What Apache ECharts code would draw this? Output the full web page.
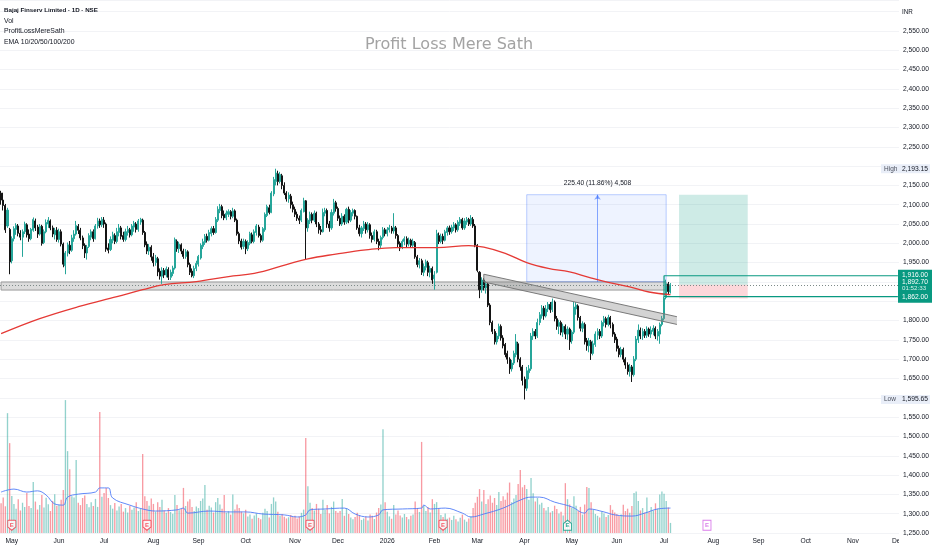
<!DOCTYPE html>
<html lang="en">
<head>
<meta charset="UTF-8">
<title>Bajaj Finserv Limited · 1D · NSE</title>
<style>
  html, body { margin: 0; padding: 0; background: #fff; }
  #chart { width: 932px; height: 550px; }
</style>
<script src="https://cdn.jsdelivr.net/npm/echarts@6/dist/echarts.min.js"></script>
</head>
<body>
<div id="chart"></div>
<script>
// ---- data ----
var firstDay = Date.UTC(2025, 3, 24);   // first visible session
var dayCount = 419;                      // sessions on the time scale (incl. future)
var monthAbbr = ['Jan','Feb','Mar','Apr','May','Jun','Jul','Aug','Sep','Oct','Nov','Dec'];
var hiddenTicks = [2600, 2200, 1900, 1850, 1600];

// [open, close, low, high]
var candles = [
  // Apr 2025
  [2130,2112,2100,2136],[2112,2098,2085,2131],[2098,2035,2027,2102],[2045,2086,2040,2092],[2036,1952,1920,2040],
  // May
  [1955,2012,1948,2018],[2012,2038,2005,2044],[2036,2046,2022,2052],[2045,2026,2018,2050],[2026,2016,2008,2034],
  [2016,2030,1965,2036],[2030,2050,2024,2056],[2048,2022,2015,2052],[2024,2012,2004,2036],[2012,2036,2008,2040],
  [2034,2062,2030,2067],[2058,2040,2032,2064],[2042,2024,2014,2048],[2024,2044,2020,2050],[2044,2000,1994,2048],
  [2002,2030,1998,2036],[2030,2054,2026,2062],[2050,2060,2040,2068],[2058,2040,2034,2062],[2040,2024,2016,2046],
  [2022,2034,2010,2040],[2034,2010,2004,2042],
  // Jun
  [2010,2030,2002,2038],[2030,1998,1992,2036],[1998,1946,1938,2002],[1942,1975,1920,1980],[1975,1996,1966,2002],
  [1995,1982,1972,2006],[1982,2014,1978,2022],[2012,2024,2004,2034],[2024,2046,2020,2058],[2044,2034,2024,2050],
  [2034,2014,2008,2040],[2014,1994,1985,2020],[1995,1975,1962,2000],[1975,1990,1958,1996],[1992,2020,1988,2026],
  [2016,2030,2008,2036],[2030,2012,2004,2036],[2012,2045,2010,2050],[2045,2058,2038,2066],[2058,2048,2040,2064],
  [2048,2062,2042,2068],
  // Jul
  [2060,2050,2040,2068],[2050,1985,1978,2054],[1988,1982,1974,2000],[1984,2010,1980,2018],[2008,2022,2000,2030],
  [2020,2005,1998,2026],[2005,2030,2000,2040],[2028,2040,2018,2050],[2040,2018,2010,2045],[2020,2010,2004,2030],
  [2010,2030,2005,2038],[2028,2036,2020,2045],[2035,2022,2015,2040],[2022,2045,2018,2050],[2042,2052,2030,2058],
  [2050,2036,2028,2055],[2036,2058,2030,2063],[2055,2062,2048,2066],[2060,2028,2022,2064],[2028,1996,1990,2032],
  [1998,1980,1972,2005],[1980,1990,1970,1998],[1990,1965,1955,1995],
  // Aug
  [1965,1950,1940,1975],[1950,1962,1942,1970],[1960,1926,1915,1965],[1928,1915,1906,1935],[1915,1930,1895,1938],
  [1930,1918,1910,1936],[1918,1934,1912,1940],[1932,1912,1905,1938],[1912,1925,1905,1932],[1922,1936,1915,1942],
  [1936,2010,1932,2015],[2005,1986,1978,2010],[1986,1998,1975,2004],[1996,1980,1972,2000],[1980,1966,1960,1986],
  [1966,1978,1960,1985],[1978,1945,1938,1982],[1945,1925,1918,1950],[1928,1916,1912,1935],[1916,1935,1910,1942],
  [1935,1948,1928,1955],
  // Sep
  [1946,1966,1940,1970],[1962,1995,1958,2000],[1992,2004,1985,2012],[2002,2018,1996,2024],[2018,2008,2002,2025],
  [2008,2028,2005,2035],[2025,2038,2018,2044],[2038,2028,2022,2045],[2028,2062,2025,2068],[2060,2088,2055,2096],
  [2085,2095,2078,2102],[2095,2072,2065,2100],[2075,2066,2060,2085],[2066,2078,2060,2085],[2075,2082,2068,2088],
  [2082,2070,2062,2086],[2070,2084,2065,2092],[2084,2060,2055,2088],[2060,2025,2020,2064],[2025,2006,1998,2030],
  [2006,1990,1984,2012],[1992,2005,1985,2012],
  // Oct
  [2005,1986,1972,2010],[1986,2002,1980,2008],[2000,2025,1995,2030],[2022,2005,2000,2028],[2005,2030,2000,2036],
  [2028,2045,2020,2050],[2042,2020,2015,2048],[2020,2008,2002,2025],[2008,2038,2004,2042],[2035,2075,2030,2080],
  [2072,2095,2068,2100],[2092,2080,2075,2100],[2080,2130,2078,2135],[2128,2165,2122,2172],[2160,2182,2150,2193.15],
  [2180,2160,2150,2188],[2160,2178,2155,2185],[2175,2150,2140,2180],[2150,2130,2125,2158],[2130,2115,2108,2135],
  [2115,2125,2105,2132],[2122,2100,2090,2128],[2100,2088,2080,2108],
  // Nov
  [2088,2075,2068,2095],[2075,2065,2058,2082],[2065,2060,2050,2072],[2060,2085,2055,2090],[2082,2110,2080,2118],
  [2110,2040,1958,2112],[2040,2060,2030,2065],[2058,2075,2050,2082],[2075,2060,2052,2080],[2060,2078,2055,2085],
  [2078,2050,2042,2082],[2050,2035,2025,2055],[2035,2030,2022,2045],[2030,2080,2028,2090],[2078,2085,2070,2092],
  [2085,2050,2040,2090],[2050,2040,2030,2058],[2040,2080,2035,2088],[2078,2105,2072,2115],[2105,2090,2082,2110],
  // Dec
  [2090,2065,2058,2095],[2065,2050,2045,2072],[2050,2070,2045,2078],[2070,2055,2048,2075],[2055,2088,2050,2092],
  [2088,2060,2052,2095],[2060,2080,2055,2086],[2078,2085,2070,2090],[2085,2070,2062,2088],[2070,2040,2035,2072],
  [2040,2025,2018,2048],[2025,2040,2015,2045],[2038,2050,2032,2058],[2050,2035,2025,2055],[2035,2048,2028,2055],
  [2048,2020,2012,2052],[2020,2010,2002,2028],[2010,2030,2005,2036],[2030,2005,1998,2035],[2005,1995,1982,2012],
  [1995,2015,1988,2020],[2015,2035,2010,2042],[2035,2025,2018,2040],
  // Jan 2026
  [2025,2035,2018,2042],[2035,2040,2028,2048],[2040,2032,2025,2045],[2032,2042,2025,2078],[2040,2020,2012,2045],
  [2020,1998,1990,2024],[2000,1988,1980,2005],[1990,2005,1985,2010],[2005,2012,1995,2018],[2012,1998,1990,2018],
  [1998,2008,1992,2015],[2008,1995,1988,2012],[1995,2005,1990,2012],[2002,1965,1960,2006],[1965,1945,1938,1970],
  [1945,1955,1935,1962],[1955,1925,1918,1960],[1925,1940,1915,1948],[1938,1952,1930,1958],[1950,1925,1915,1955],
  [1925,1935,1912,1942],[1935,1905,1895,1940],
  // Feb
  [1908,1918,1880,1928],[1925,2025,1922,2035],[2020,2005,1998,2028],[2005,2018,2000,2025],[2018,2008,1998,2025],
  [2008,2030,2005,2035],[2028,2040,2020,2045],[2040,2030,2022,2046],[2030,2042,2025,2048],[2040,2048,2032,2055],
  [2048,2035,2028,2052],[2035,2055,2030,2060],[2052,2062,2045,2068],[2062,2040,2035,2066],[2040,2058,2035,2065],
  [2055,2062,2048,2068],[2062,2050,2045,2066],[2050,2065,2045,2073],[2062,2045,2040,2068],[2045,1995,1990,2050],
  // Mar
  [1995,1930,1925,1998],[1925,1880,1858,1928],[1880,1905,1872,1912],[1905,1885,1878,1910],[1885,1895,1870,1902],
  [1895,1840,1835,1898],[1840,1795,1788,1845],[1795,1772,1765,1800],[1772,1745,1738,1778],[1745,1760,1738,1768],
  [1760,1785,1752,1792],[1785,1755,1748,1790],[1755,1735,1728,1762],[1738,1712,1705,1742],[1715,1700,1688,1722],
  [1700,1675,1662,1705],[1675,1690,1668,1698],[1690,1715,1685,1722],[1712,1745,1705,1765],[1740,1700,1692,1745],
  [1700,1680,1670,1705],[1680,1645,1632,1685],
  // Apr
  [1648,1625,1595.65,1655],[1625,1670,1618,1680],[1665,1675,1648,1685],[1675,1760,1670,1768],[1760,1772,1750,1780],
  [1772,1760,1752,1778],[1760,1795,1755,1805],[1795,1815,1788,1822],[1812,1832,1805,1840],[1832,1812,1802,1838],
  [1812,1830,1808,1840],[1830,1842,1822,1848],[1842,1828,1820,1848],[1828,1848,1822,1857],[1848,1805,1798,1852],
  [1805,1785,1776,1812],[1785,1795,1765,1802],[1795,1770,1762,1800],[1770,1785,1758,1792],[1785,1765,1752,1790],
  [1765,1778,1750,1785],[1778,1745,1724,1782],
  // May
  [1748,1770,1740,1775],[1770,1835,1765,1849],[1830,1840,1815,1848],[1838,1808,1800,1842],[1808,1780,1772,1812],
  [1780,1792,1770,1798],[1790,1745,1738,1795],[1748,1735,1722,1755],[1735,1748,1718,1755],[1745,1715,1698,1750],
  [1715,1740,1710,1748],[1738,1765,1732,1772],[1762,1772,1750,1780],[1772,1760,1752,1778],[1760,1795,1755,1800],
  [1795,1805,1785,1812],[1805,1790,1782,1810],[1790,1808,1785,1815],[1808,1790,1780,1812],[1790,1765,1758,1795],
  [1765,1750,1742,1770],
  // Jun
  [1752,1728,1720,1758],[1728,1712,1705,1735],[1712,1725,1705,1732],[1725,1700,1692,1730],[1700,1685,1675,1705],
  [1685,1668,1660,1692],[1668,1680,1655,1688],[1680,1660,1641,1685],[1660,1700,1655,1708],[1700,1752,1695,1760],
  [1750,1775,1742,1790],[1775,1760,1752,1782],[1760,1772,1750,1780],[1772,1762,1755,1778],[1762,1778,1755,1785],
  [1778,1765,1758,1782],[1765,1775,1755,1785],[1772,1780,1762,1788],[1780,1760,1752,1785],[1760,1772,1748,1778],
  [1765,1790,1740,1795],[1790,1805,1785,1812],
  // Jul
  [1805,1858,1800,1862],[1860,1895,1855,1906],[1895,1875,1866,1900],[1874,1892.7,1870,1897]
];

// volume, lakh shares
var volumes = [
  10,12,9,40.4,30.3,
  12.5,9.8,8.2,11.4,7.6,10.2,8.8,13.5,9.1,8.4,17.2,10.6,7.9,9.4,12.8,8.6,11.9,9.7,7.4,10.8,13.1,9.2,
  9.5,11.2,14.5,44.8,27.6,21.5,12.4,12.0,24.6,10.2,9.4,11.8,12.6,9.8,8.7,10.4,9.1,11.5,8.8,40.8,12.2,
  13.5,15.2,11.8,9.4,8.2,10.1,7.6,8.9,9.8,7.2,8.4,6.9,9.2,7.8,8.6,10.4,7.4,8.1,26.6,12.4,10.8,9.2,11.6,
  9.8,7.2,10.4,8.8,11.2,7.6,6.8,8.4,7.1,6.5,12.8,9.4,7.7,8.2,15.2,9.1,10.6,11.4,8.8,7.4,8.9,
  8.4,10.8,11.6,16.2,7.8,9.2,8.6,6.9,10.4,11.8,9.6,8.2,12.8,6.8,7.4,6.2,13.0,7.9,9.6,8.4,7.2,6.6,
  7.8,5.6,6.2,4.8,5.9,6.6,5.1,4.6,6.8,8.2,7.4,5.2,9.8,12.0,10.6,7.2,5.8,6.4,5.5,4.9,5.3,6.1,5.4,
  5.8,4.9,5.6,6.8,7.9,32.0,15.8,10.2,8.4,7.6,9.8,8.2,6.4,11.2,7.8,9.4,6.6,8.8,10.6,7.4,
  6.8,7.4,11.5,5.8,8.2,6.4,5.2,4.6,5.4,6.8,5.9,4.4,4.9,5.6,4.2,6.2,5.8,4.7,6.9,8.4,9.6,35.0,10.4,
  7.2,5.6,4.8,9.4,6.2,7.6,5.9,5.2,6.4,5.4,4.6,5.8,6.2,10.6,8.4,7.1,30.7,9.2,7.4,8.8,6.9,11.4,
  9.8,10.4,8.2,6.1,5.4,6.6,4.8,5.2,4.4,5.8,4.6,3.9,5.1,6.2,4.5,3.8,4.9,5.6,8.4,10.2,
  12.2,14.8,10.6,14.5,9.8,11.4,12.6,10.2,11.8,9.4,13.8,10.8,12.4,11.2,13.6,17.0,10.4,11.6,12.8,16.5,21.2,15.4,
  16.2,14.8,11.2,18.5,13.4,10.6,11.8,9.6,10.2,8.4,7.6,8.8,6.9,7.4,9.2,8.1,6.6,7.2,5.9,16.8,11.4,9.6,
  8.6,12.4,9.2,7.4,8.8,6.2,9.6,15.5,15.2,10.4,7.8,6.4,5.8,5.2,7.2,6.6,5.4,6.1,9.4,7.8,6.9,
  6.4,5.8,6.2,9.5,7.4,8.2,6.8,9.1,13.5,14.0,10.8,7.6,8.4,6.9,12.0,7.2,8.8,7.6,10.0,8.2,13.0,14.0,
  13.2,10.8,8.6,3.4
];

// EMA 200 read at sample sessions [session index, value]
var ema200 = [
  [0,1766],[18,1805],[36,1836],[54,1862],[66,1880],[76,1893],[91,1901],[106,1914],[118,1922],
  [133,1945],[143,1960],[156,1972],[170,1983],[184,1989],[203,1989],[218,1994],[225,1990],
  [235,1974],[245,1950],[255,1935],[265,1926],[274,1912],[283,1899],[293,1887],[302,1874],[312,1867]
];

// volume moving average read at sample sessions
var volumeMa = [
  [0,13.8],[6,14.8],[12,13.8],[17,14.2],[21,12.8],[25,9.8],[29,9.4],[31,12.1],[36,13.1],[44,13.8],
  [46,15.2],[50,15.2],[52,11.8],[60,9.4],[66,8.1],[72,7.4],[82,7.8],[85,8.4],[87,6.7],[97,7.4],
  [106,7.1],[114,7.1],[122,6.4],[132,6.1],[138,5.4],[142,6.1],[144,7.8],[151,8.1],[160,8.4],
  [165,6.4],[171,5.4],[176,6.1],[178,7.8],[187,8.1],[196,8.4],[197,9.4],[200,8.1],[207,8.4],
  [215,6.7],[219,5.4],[225,6.4],[234,8.4],[242,11.1],[247,12.1],[251,12.1],[258,10.4],[266,8.8],
  [272,6.7],[274,8.1],[281,7.1],[286,6.1],[294,5.7],[300,6.7],[306,8.1],[312,8.4]
];

var earningsPast = [5, 68, 144, 206];
var earningsBeat = [264];
var earningsNext = [329];

var supportBand = [1879, 1900];      // low, high
var supportEnd = 310;
var channel = [225, 1920, 1900, 315, 1810, 1790]; // x1, top1, bottom1, x2, top2, bottom2
var measure = { from: 245, to: 310, mid: 278, low: 1900.5, high: 2125.9, text: '225.40 (11.86%) 4,508' };
var position = { from: 316, to: 348, entry: 1892.7, target: 2125.9, stop: 1857 };
var levels = { start: 309, upper: 1916, lower: 1862 };
var lastPrice = 1892.7;
var countdown = '01:52:33';
var highPrice = 2193.15;
var lowPrice = 1595.65;
var legendLines = ['Bajaj Finserv Limited · 1D · NSE', 'Vol', 'ProfitLossMereSath', 'EMA 10/20/50/100/200'];
var watermark = 'Profit Loss Mere Sath';

// ---- build ----
var FONT = '"Liberation Sans", Arial, sans-serif';
var UP = '#26a69a', DOWN = '#141414';

var dates = [];
for (var t = firstDay; dates.length < dayCount; t += 86400000) {
  var d = new Date(t);
  if (d.getUTCDay() !== 0 && d.getUTCDay() !== 6) dates.push(d.toISOString().slice(0, 10));
}
function at(pairs) { return pairs.map(function (p) { return [dates[p[0]], p[1]]; }); }
function fmt(v) { return v.toLocaleString('en-US', { minimumFractionDigits: 2, maximumFractionDigits: 2 }); }

var volData = volumes.map(function (v, i) {
  var up = candles[i][1] >= candles[i][0];
  return { value: v, itemStyle: { color: up ? 'rgba(38,166,154,0.5)' : 'rgba(242,54,69,0.5)' } };
});

function earnSeries(list, color, path) {
  return {
    type: 'scatter', xAxisIndex: 1, yAxisIndex: 1, z: 6,
    data: list.map(function (i) { return [dates[i], 2.6]; }),
    symbol: path, symbolSize: [8, 10],
    itemStyle: { color: '#fff', borderColor: color, borderWidth: 1 },
    label: { show: true, formatter: 'E', position: 'inside', color: color, fontSize: 6, fontWeight: 'bold', fontFamily: FONT }
  };
}

var chart = echarts.init(document.getElementById('chart'));
chart.setOption({
  animation: false,
  backgroundColor: '#fff',
  grid: [
    { left: -2, right: 33, top: 0, bottom: 17 },
    { left: -2, right: 33, top: 355, bottom: 17 }
  ],
  xAxis: [{
    type: 'category', data: dates, gridIndex: 0,
    axisLine: { show: false }, axisTick: { show: false }, splitLine: { show: false },
    axisLabel: {
      interval: function (i, v) { return i > 0 && v.slice(5, 7) !== dates[i - 1].slice(5, 7); },
      formatter: function (v) { var m = +v.slice(5, 7) - 1; return m === 0 ? v.slice(0, 4) : monthAbbr[m]; },
      color: '#131722', fontSize: 6.7, fontFamily: FONT, margin: 5
    }
  }, {
    type: 'category', data: dates, gridIndex: 1, show: false
  }],
  yAxis: [{
    type: 'value', position: 'right', min: 1250, max: 2630, interval: 50,
    axisLine: { show: false }, axisTick: { show: false },
    splitLine: { lineStyle: { color: '#f2f3f6', width: 1 } },
    axisLabel: {
      color: '#131722', fontSize: 6.7, fontFamily: FONT, margin: 4,
      formatter: function (v) { return (v > 2550 || hiddenTicks.indexOf(v) >= 0) ? '' : fmt(v); }
    }
  }, {
    type: 'value', gridIndex: 1, min: 0, max: 60, show: false
  }],
  series: [
    {
      type: 'bar', name: 'Vol', xAxisIndex: 1, yAxisIndex: 1, data: volData,
      barWidth: '62%', z: 1
    },
    {
      type: 'line', name: 'Vol MA', xAxisIndex: 1, yAxisIndex: 1, data: at(volumeMa),
      smooth: 0.4, symbol: 'none', lineStyle: { color: '#4f7cf7', width: 0.9 }, z: 2
    },
    {
      type: 'candlestick', name: 'BAJAJFINSV', data: candles, barWidth: '72%', z: 3,
      itemStyle: { color: UP, color0: DOWN, borderColor: UP, borderColor0: DOWN, borderWidth: 1 },
      markArea: {
        silent: true,
        data: [
          [{ xAxis: dates[0], yAxis: supportBand[0],
             itemStyle: { color: 'rgba(150,150,150,0.33)', borderColor: '#9c9c9c', borderWidth: 1 } },
           { xAxis: dates[supportEnd], yAxis: supportBand[1] }],
          [{ xAxis: dates[measure.from], yAxis: measure.low,
             itemStyle: { color: 'rgba(41,98,255,0.08)', borderColor: 'rgba(41,98,255,0.3)', borderWidth: 1 } },
           { xAxis: dates[measure.to], yAxis: measure.high }],
          [{ xAxis: dates[position.from], yAxis: position.entry, itemStyle: { color: 'rgba(8,153,129,0.2)' } },
           { xAxis: dates[position.to], yAxis: position.target }],
          [{ xAxis: dates[position.from], yAxis: position.stop, itemStyle: { color: 'rgba(242,54,69,0.2)' } },
           { xAxis: dates[position.to], yAxis: position.entry }]
        ]
      },
      markLine: {
        silent: true, symbol: ['none', 'none'],
        data: [
          { yAxis: lastPrice, lineStyle: { color: '#7d8a88', type: [1, 2], width: 1 }, label: { show: false } },
          [{ coord: [dates[measure.mid], measure.low], lineStyle: { color: 'rgba(41,98,255,0.55)', type: 'solid', width: 1 },
             label: { show: true, position: 'end', formatter: measure.text, color: '#131722', fontSize: 6.7, fontFamily: FONT, distance: 8 } },
           { coord: [dates[measure.mid], measure.high], symbol: 'arrow', symbolSize: 5 }]
        ]
      }
    },
    {
      type: 'custom', name: 'channel', z: 4,
      data: [channel],
      encode: { x: [0, 3], y: [1, 2, 4, 5] },
      renderItem: function (params, api) {
        var a = api.coord([api.value(0), api.value(1)]);
        var b = api.coord([api.value(3), api.value(4)]);
        var c = api.coord([api.value(3), api.value(5)]);
        var e = api.coord([api.value(0), api.value(2)]);
        return {
          type: 'group', children: [
            { type: 'polygon', shape: { points: [a, b, c, e] }, style: { fill: 'rgba(140,140,140,0.38)' } },
            { type: 'line', shape: { x1: a[0], y1: a[1], x2: b[0], y2: b[1] }, style: { stroke: '#7a7a7a', lineWidth: 1 } },
            { type: 'line', shape: { x1: e[0], y1: e[1], x2: c[0], y2: c[1] }, style: { stroke: '#7a7a7a', lineWidth: 1 } },
            { type: 'line', shape: { x1: a[0], y1: a[1], x2: e[0], y2: e[1] }, style: { stroke: '#7a7a7a', lineWidth: 1 } }
          ]
        };
      }
    },
    {
      type: 'line', name: 'EMA 200', data: at(ema200), smooth: 0.4, symbol: 'none', z: 5,
      lineStyle: { color: '#e53935', width: 1.3 }
    },
    {
      type: 'line', name: 'levels', symbol: 'none', z: 5,
      data: [[dates[dayCount - 1], levels.upper], [dates[levels.start], levels.upper],
             [dates[levels.start], levels.lower], [dates[dayCount - 1], levels.lower]],
      lineStyle: { color: '#089981', width: 1.2 }
    },
    earnSeries(earningsPast, '#f23645', 'path://M1,0 H9 Q10,0 10,1 V8 L5,12 L0,8 V1 Q0,0 1,0 Z'),
    earnSeries(earningsBeat, '#089981', 'path://M5,0 L10,4 V12 H0 V4 Z'),
    earnSeries(earningsNext, '#d05ce3', 'path://M0,0 H10 V12 H0 Z')
  ]
});

// ---- texts and price-scale tags ----
var y = function (v) { return chart.convertToPixel({ yAxisIndex: 0 }, v); };
function txt(x, yy, s, color, size, extra) {
  var st = { text: s, fill: color, fontSize: size, fontFamily: FONT, align: 'left', verticalAlign: 'middle',
             textAlign: 'left', textVerticalAlign: 'middle' };
  for (var k in extra) st[k] = extra[k];
  return { type: 'text', x: x, y: yy, z: 101, style: st };
}
function box(x, yy, w, h, fill) {
  return { type: 'rect', z: 100, shape: { x: x, y: yy, width: w, height: h }, style: { fill: fill } };
}

var g = [];
legendLines.forEach(function (s, i) {
  g.push(txt(4, 10 + i * 10.6, s, '#131722', i === 0 ? 6.2 : 6.9, { fontWeight: i === 0 ? 'bold' : 'normal' }));
});
g.push({ type: 'text', x: 449, y: 45, z: 50, style: { text: watermark, fill: '#a3a3a3', fontSize: 16,
  fontFamily: '"DejaVu Sans", sans-serif', align: 'center', verticalAlign: 'middle', textAlign: 'center', textVerticalAlign: 'middle' } });
g.push(txt(902, 12, 'INR', '#131722', 6.3));

var yu = y(levels.upper), yl = y(levels.lower), yp = y(lastPrice);
g.push(box(898, yu - 6, 34, yl - yu + 12, '#089981'));
g.push(txt(902, yu - 1, fmt(levels.upper), '#fff', 6.7));
g.push(txt(902, yp - 3, fmt(lastPrice), '#fff', 6.7));
g.push(txt(902, yp + 4, countdown, '#d8f1ec', 6.2));
g.push(txt(902, yl + 1, fmt(levels.lower), '#fff', 6.7));

[[highPrice, 'High'], [lowPrice, 'Low']].forEach(function (p) {
  var yy = y(p[0]);
  g.push(box(881, yy - 4.5, 49, 9, '#e9eef8'));
  g.push(txt(884, yy, p[1], '#4a4f5c', 6.5));
  g.push(txt(902, yy, fmt(p[0]), '#131722', 6.7));
});
// the price scale panel cuts the last month label
g.push(box(899, 537, 33, 13, '#fff'));

chart.setOption({ graphic: g });
</script>
</body>
</html>
